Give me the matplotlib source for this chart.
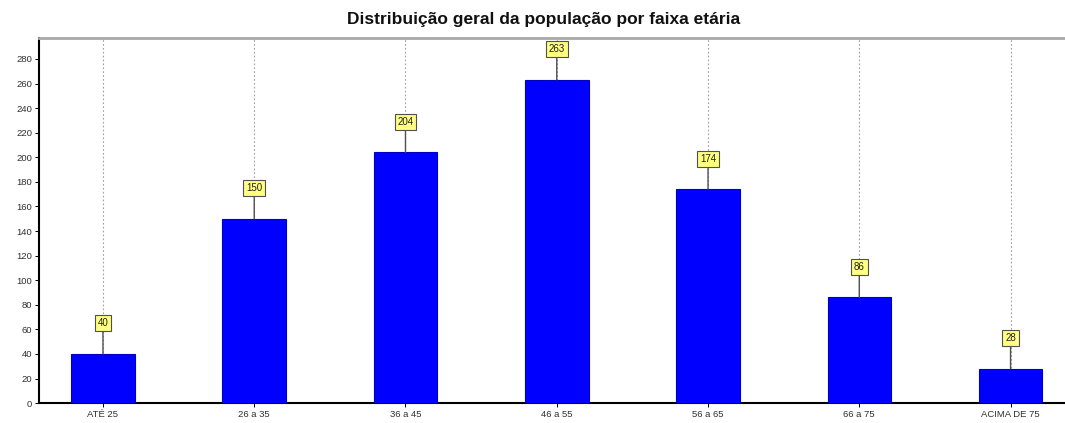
import matplotlib
matplotlib.use("Agg")
import matplotlib.pyplot as plt
import numpy as np

plt.rcParams["font.family"] = ["Liberation Sans", "DejaVu Sans"]

faixas = ["ATÉ 25", "26 a 35", "36 a 45", "46 a 55", "56 a 65", "66 a 75", "ACIMA DE 75"]
valores = [40, 150, 204, 263, 174, 86, 28]
y_ticks = list(range(0, 281, 20))

fig = plt.figure(figsize=(10.65, 4.23), dpi=100)
ax = fig.add_axes([0.0366, 0.047, 0.9634, 0.863])

x = np.arange(len(faixas))
ax.bar(x, valores, width=0.42, color="#0000ff", edgecolor="#0000c0", linewidth=0.8, zorder=3)

# grade vertical pontilhada nas categorias
for xi in x:
    ax.axvline(xi, color="#a0a0a0", linestyle=(0, (1.5, 2)), linewidth=0.8, zorder=1)

# rótulos amarelos acima das barras
for xi, v in zip(x, valores):
    ax.annotate(str(v), xy=(xi, v), xytext=(0, 22), textcoords="offset points",
                ha="center", va="center", fontsize=7, color="#202020",
                bbox=dict(boxstyle="square,pad=0.3", fc="#ffff80", ec="#505050", lw=0.8),
                arrowprops=dict(arrowstyle="-", color="#505050", lw=1.0,
                                shrinkA=0, shrinkB=0), zorder=4)

ax.set_xlim(-0.423, 6.36)
ax.set_ylim(0, 297)
ax.set_xticks(x)
ax.set_xticklabels(faixas, fontsize=6.8, color="#303030")
ax.set_yticks(y_ticks)
ax.set_yticklabels([str(t) for t in y_ticks], fontsize=6.8, color="#303030")
ax.tick_params(axis="both", length=3, width=0.7, pad=2)

ax.spines["right"].set_visible(False)
ax.spines["top"].set_color("#a8a8a8")
ax.spines["top"].set_linewidth(2.0)
ax.spines["left"].set_linewidth(1.5)
ax.spines["bottom"].set_linewidth(1.5)

fig.text(0.51, 0.955, "Distribuição geral da população por faixa etária",
         ha="center", va="center", fontsize=12.5, fontweight="bold", color="#101010")

fig.savefig("out.png", dpi=100)
